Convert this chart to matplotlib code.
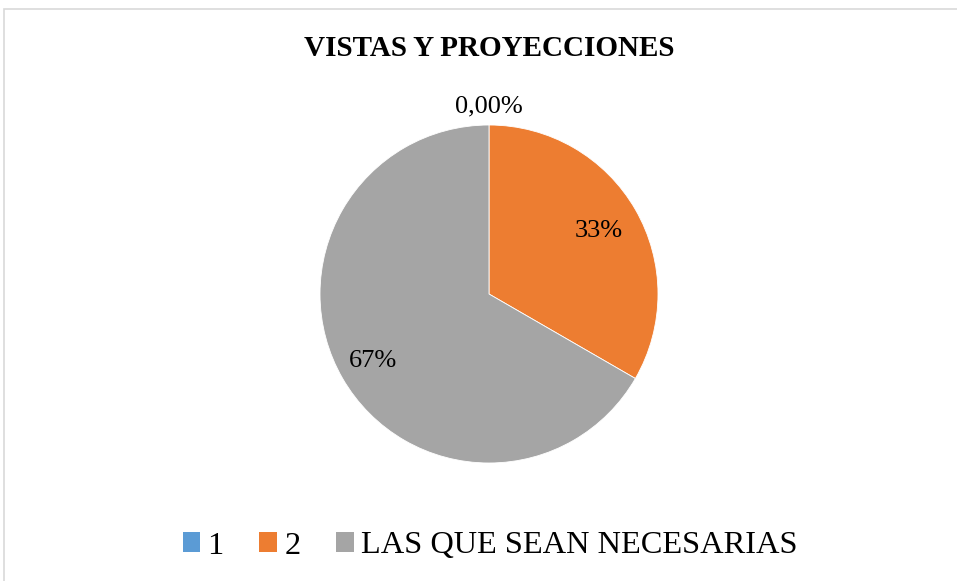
import matplotlib
matplotlib.use("Agg")
import matplotlib.pyplot as plt
from matplotlib.patches import Rectangle, Patch
import numpy as np

plt.rcParams['font.family'] = ['Liberation Serif', 'DejaVu Serif']

title = "VISTAS Y PROYECCIONES"
categories = ["1", "2", "LAS QUE SEAN NECESARIAS"]
values = [0, 1, 2]
label_texts = ["0,00%", "33%", "67%"]
colors = ["#5B9BD5", "#ED7D31", "#A5A5A5"]

W, H = 957, 581
fig = plt.figure(figsize=(W / 100, H / 100), dpi=100)

# chart frame
fig.add_artist(Rectangle((4 / W, -0.05), 1.1, (H - 9) / H + 0.05, transform=fig.transFigure,
                         fill=False, edgecolor="#D9D9D9", linewidth=1.2))

cx, cy, r = 489, 294, 169
ax = fig.add_axes([(cx - r) / W, (H - cy - r) / H, 2 * r / W, 2 * r / H])
wedges, _ = ax.pie(values, colors=colors, startangle=90, counterclock=False,
                   radius=1, wedgeprops=dict(edgecolor="white", linewidth=0.6))
ax.set_xlim(-1, 1)
ax.set_ylim(-1, 1)
ax.set_aspect("auto")
ax.axis("off")

# value labels placed along each wedge's mid-angle
dist = [1.11, 0.75, 0.79]
for w, txt, d in zip(wedges, label_texts, dist):
    ang = np.deg2rad((w.theta1 + w.theta2) / 2)
    ax.text(d * np.cos(ang), d * np.sin(ang), txt, ha="center", va="center",
            fontsize=19, color="#000000", clip_on=False)

fig.text(cx / W, 1 - 48 / H, title, ha="center", va="center",
         fontsize=21, fontweight="bold")

handles = [Patch(facecolor=c, edgecolor="none") for c in colors]
fig.legend(handles, categories, loc="center", bbox_to_anchor=(490 / W, 1 - 546 / H),
           ncol=3, frameon=False, fontsize=23.3, handlelength=0.55, handleheight=0.6,
           handletextpad=0.22, columnspacing=1.1)

fig.savefig("out.png", dpi=100)
